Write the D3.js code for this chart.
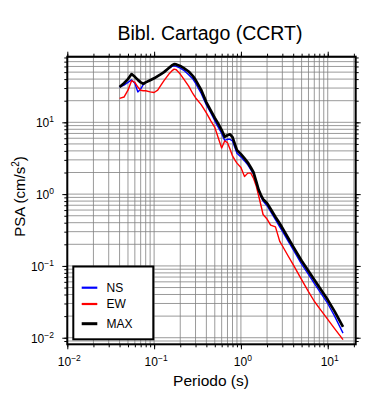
<!DOCTYPE html>
<html>
<head>
<meta charset="utf-8">
<script src="https://cdn.jsdelivr.net/npm/d3@7"></script>
<style>
  body { margin: 0; background: #fff; }
  text { font-family: "Liberation Sans", Arial, Helvetica, sans-serif; fill: #000; }
</style>
</head>
<body>
<div id="chart"></div>
<script>
// spectral periods (s)
const periods = [0.04, 0.045, 0.05, 0.055, 0.06, 0.065, 0.07, 0.075, 0.08, 0.09,
  0.1, 0.11, 0.12, 0.13, 0.14, 0.15, 0.16, 0.17, 0.18, 0.2,
  0.22, 0.25, 0.28, 0.3, 0.35, 0.4, 0.45, 0.5, 0.55, 0.6,
  0.65, 0.7, 0.75, 0.8, 0.85, 0.9, 1.0, 1.1, 1.2, 1.3,
  1.4, 1.5, 1.6, 1.7, 1.8, 2.0, 2.2, 2.5, 2.8, 3.0,
  3.5, 4.0, 5.0, 6.0, 7.0, 8.0, 10, 12, 15];

// PSA (cm/s2)
const psaNS = [31, 33, 36, 39, 35, 26.5, 29, 33.5, 36, 38.5,
  41, 44, 47, 50, 54, 57, 60, 61, 60, 57,
  53, 46, 40, 35, 25, 17.5, 13.5, 10.5, 8.5, 7.0,
  5.6, 5.8, 5.8, 5.5, 4.5, 3.7, 3.3, 2.9, 2.55, 2.2,
  1.9, 1.45, 1.1, 0.93, 0.80, 0.69, 0.57, 0.44, 0.35, 0.305,
  0.222, 0.168, 0.106, 0.076, 0.057, 0.045, 0.030, 0.020, 0.0116];

const psaEW = [21.5, 22.5, 28, 38, 36, 31, 28, 27.5, 27.5, 26.5,
  26, 28, 33, 38, 43, 48, 52, 55, 54, 47,
  40, 32, 25, 22, 17.5, 13.5, 10.5, 8.5, 6.0, 4.4,
  5.5, 5.2, 4.2, 3.4, 3.0, 2.7, 2.35, 1.76, 1.96, 1.96,
  1.65, 1.3, 0.95, 0.7, 0.52, 0.45, 0.37, 0.35, 0.22, 0.191,
  0.1375, 0.104, 0.0646, 0.0439, 0.0322, 0.0259, 0.018, 0.0134, 0.0094];

const psaMAX = [31, 35, 40, 47, 43, 39, 36, 34.5, 36, 38.5,
  41, 44, 47, 50, 54, 58, 62, 64.5, 64, 61,
  57, 51, 44, 39, 28, 19, 14.5, 11.5, 9.5, 7.8,
  6.3, 6.6, 6.8, 6.2, 5.0, 4.1, 3.6, 3.15, 2.75, 2.35,
  2.0, 1.5, 1.15, 0.97, 0.85, 0.75, 0.62, 0.48, 0.39, 0.337,
  0.245, 0.186, 0.118, 0.0848, 0.0643, 0.0504, 0.0337, 0.0233, 0.0142];

const xExps = [-2, -1, 0, 1];
const yExps = [-2, -1, 0, 1];

const series = [
  {name: "NS", values: psaNS, color: "#0000ff", width: 1.4, legendWidth: 2.2},
  {name: "EW", values: psaEW, color: "#ff0000", width: 1.4, legendWidth: 2.2},
  {name: "MAX", values: psaMAX, color: "#000000", width: 2.7, legendWidth: 3}
];

const width = 390, height = 400;
const pLeft = 67.3, pRight = 355.7, pTop = 56.7, pBottom = 344.3;

const svg = d3.select("#chart").append("svg")
  .attr("width", width)
  .attr("height", height);

const x = d3.scaleLog().domain([0.01, 21]).range([pLeft, pRight]);
const y = d3.scaleLog().domain([0.0081, 82]).range([pBottom, pTop]);

// minor values 1..9 x 10^n inside the domain
function logSteps(scale, e0, e1) {
  const [a, b] = scale.domain();
  const out = [];
  for (let e = e0; e <= e1; e++) {
    for (let m = 1; m <= 9; m++) {
      const v = m * Math.pow(10, e);
      if (v >= a * 0.999 && v <= b * 1.001) out.push(v);
    }
  }
  return out;
}
const xMinor = logSteps(x, -2, 1);
const yMinor = logSteps(y, -3, 1);
const xMajor = xExps.map(e => Math.pow(10, e));
const yMajor = yExps.map(e => Math.pow(10, e));

// grid
const grid = svg.append("g").attr("stroke", "#808080").attr("stroke-width", 0.8);
grid.selectAll(".gx").data(xMinor).join("line")
  .attr("class", "gx")
  .attr("x1", d => x(d)).attr("x2", d => x(d))
  .attr("y1", pTop).attr("y2", pBottom);
grid.selectAll(".gy").data(yMinor).join("line")
  .attr("class", "gy")
  .attr("x1", pLeft).attr("x2", pRight)
  .attr("y1", d => y(d)).attr("y2", d => y(d));

// ticks on all four sides
function ticks(axis, tr, vals, size) {
  svg.append("g")
    .attr("transform", tr)
    .call(axis.tickValues(vals).tickSize(size).tickFormat(""))
    .call(g => g.select(".domain").remove())
    .call(g => g.selectAll("line").attr("stroke", "#000").attr("stroke-width", 1));
}
ticks(d3.axisBottom(x), `translate(0,${pBottom})`, xMinor, 3);
ticks(d3.axisBottom(x), `translate(0,${pBottom})`, xMajor, 5);
ticks(d3.axisTop(x), `translate(0,${pTop})`, xMinor, 3);
ticks(d3.axisTop(x), `translate(0,${pTop})`, xMajor, 5);
ticks(d3.axisLeft(y), `translate(${pLeft},0)`, yMinor, 3);
ticks(d3.axisLeft(y), `translate(${pLeft},0)`, yMajor, 5);
ticks(d3.axisRight(y), `translate(${pRight},0)`, yMinor, 3);
ticks(d3.axisRight(y), `translate(${pRight},0)`, yMajor, 5);

// curves
const line = d3.line()
  .x((d, i) => x(periods[i]))
  .y(d => y(d));

svg.append("g").selectAll("path").data(series).join("path")
  .attr("d", d => line(d.values))
  .attr("fill", "none")
  .attr("stroke", d => d.color)
  .attr("stroke-width", d => d.width)
  .attr("stroke-linejoin", "round");

// frame
svg.append("rect")
  .attr("x", pLeft).attr("y", pTop)
  .attr("width", pRight - pLeft).attr("height", pBottom - pTop)
  .attr("fill", "none").attr("stroke", "#000").attr("stroke-width", 2);

// tick labels 10^n
function powLabel(sel, e) {
  sel.append("tspan").text("10");
  sel.append("tspan").attr("dy", -5).attr("font-size", 8.5)
    .text(e < 0 ? "\u2212" + Math.abs(e) : e);
}
svg.append("g").selectAll("text").data(xExps).join("text")
  .attr("x", d => x(Math.pow(10, d)) + 2)
  .attr("y", 365.5)
  .attr("text-anchor", "middle")
  .attr("font-size", 12)
  .each(function(d) { powLabel(d3.select(this), d); });

svg.append("g").selectAll("text").data(yExps).join("text")
  .attr("x", 54)
  .attr("y", d => y(Math.pow(10, d)) + 5)
  .attr("text-anchor", "end")
  .attr("font-size", 12)
  .each(function(d) { powLabel(d3.select(this), d); });

// titles
svg.append("text")
  .attr("x", 210).attr("y", 39.5)
  .attr("text-anchor", "middle")
  .attr("font-size", 19.5)
  .text("Bibl. Cartago (CCRT)");

svg.append("text")
  .attr("x", 211).attr("y", 386)
  .attr("text-anchor", "middle")
  .attr("font-size", 15.5)
  .text("Periodo (s)");

const yl = svg.append("text")
  .attr("transform", `translate(25,${(pTop + pBottom) / 2 - 4}) rotate(-90)`)
  .attr("text-anchor", "middle")
  .attr("font-size", 15);
yl.append("tspan").text("PSA (cm/s");
yl.append("tspan").attr("dy", -6).attr("font-size", 10).text("2");
yl.append("tspan").attr("dy", 6).text(")");

// legend
const legend = svg.append("g");
legend.append("rect")
  .attr("x", 73.3).attr("y", 266.5)
  .attr("width", 80).attr("height", 72.8)
  .attr("fill", "#fff").attr("stroke", "#000").attr("stroke-width", 2);

const legendY = [287.7, 304, 323.7];
const items = legend.selectAll(".item").data(series).join("g")
  .attr("class", "item")
  .attr("transform", (d, i) => `translate(0,${legendY[i]})`);
items.append("line")
  .attr("x1", 81.7).attr("x2", 97.3)
  .attr("stroke", d => d.color)
  .attr("stroke-width", d => d.legendWidth);
items.append("text")
  .attr("x", 106.5).attr("y", 4.3)
  .attr("font-size", 12)
  .text(d => d.name);
</script>
</body>
</html>
